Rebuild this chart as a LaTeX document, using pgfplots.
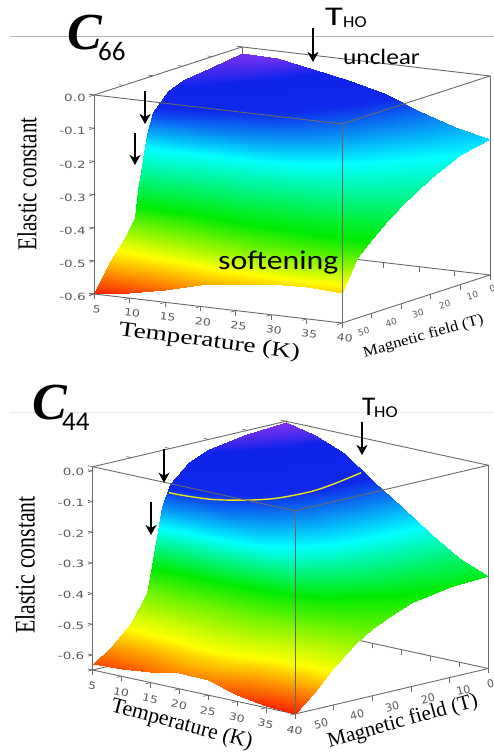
\documentclass[border=0pt]{standalone}
\usepackage{graphicx}
\usepackage{fontspec}
\setmainfont{Liberation Serif}
\newfontfamily\gill{Carlito}
\newfontfamily\tickf{DejaVu Sans}
\usepackage{pgfplots}
\pgfplotsset{compat=1.18}
\usetikzlibrary{arrows.meta}
\definecolor{boxc}{RGB}{105,105,105}
\definecolor{tickc}{RGB}{90,90,90}
\newcommand{\zt}[1]{\scalebox{1.35}[1]{#1}}
\newcommand{\xt}[1]{\scalebox{1.25}[1]{#1}}
\newcommand{\hp}[2]{\hspace*{#1}#2}
\newcommand{\hn}[2]{#2\hspace*{#1}}
\pgfplotsset{common/.style={
  axis lines=box,
  3d box=background,
  axis line style={boxc,line width=0.9pt},
  tick style={boxc,line width=0.7pt},
  tick align=outside,
  major tick length=5pt,
  tick pos=left,
  xmin=5,xmax=40,ymin=0,ymax=50,
  y dir=reverse,
  xtick={5,10,15,20,25,30,35,40},
  ytick={0,10,20,30,40,50},
  xticklabels={\xt{5},\xt{10},\xt{15},\xt{20},\xt{25},\xt{30},\xt{35},\xt{40}},
  ticklabel style={font=\tickf\fontsize{10}{10}\selectfont,text=tickc},
  grid=none,
  clip=false,
}}
\newcommand{\arrowdown}[3]{\draw[-{Stealth[length=10pt,width=11pt,inset=3pt]},line width=2pt,black] (#1pt,752pt-#2pt) -- (#1pt,752pt-#3pt);}
\begin{document}
\begin{tikzpicture}
\path[use as bounding box] (0pt,0pt) rectangle (494pt,752pt);
\draw[black!30,line width=0.6pt] (10pt,715.3pt) -- (494pt,715.3pt);
\draw[black!9,line width=0.6pt] (10pt,339.3pt) -- (494pt,339.3pt);
% ---------- C66
\begin{axis}[common,
  at={(94pt,429pt)},anchor=south west,
  x={(7.086pt,-0.829pt)},y={(2.96pt,0.96pt)},z={(0pt,331.7pt)},
  zmin=-0.6,zmax=0,
  ztick={-0.6,-0.5,-0.4,-0.3,-0.2,-0.1,0},
  zticklabels={\zt{-0.6},\zt{-0.5},\zt{-0.4},\zt{-0.3},\zt{-0.2},\zt{-0.1},\zt{0.0}},
  yticklabels={\hn{24pt}{0},\hn{4pt}{10},20,\hp{6pt}{30},\hp{12pt}{40},\hp{16pt}{50}},
  xticklabel style={anchor=center,xshift=7.5pt,yshift=-13.5pt,rotate=-7},
  yticklabel style={anchor=center,xshift=9pt,yshift=-10pt,rotate=16,font=\tickf\fontsize{9}{9}\selectfont},
  xlabel={\fontsize{21}{21}\selectfont\scalebox{1.3}[1]{Temperature (K)}},
  ylabel={\fontsize{15}{15}\selectfont\scalebox{1.12}[1]{Magnetic field (T)}},
  zlabel={\fontsize{21}{21}\selectfont\scalebox{1}[1.3]{Elastic constant}},
  every axis x label/.style={at={(axis cs:21.3,50,-0.704)},rotate=-7.5,anchor=center},
  every axis y label/.style={at={(axis cs:40,22.5,-0.721)},rotate=15.7,anchor=center},
  every axis z label/.style={at={(axis cs:5,50,-0.268)},xshift=-67pt,rotate=90,anchor=center},
  colormap={c66}{rgb255(0)=(250,30,0); rgb255(110)=(255,255,0); rgb255(220)=(0,235,0); rgb255(390)=(0,255,255); rgb255(500)=(15,40,235); rgb255(550)=(15,35,235); rgb255(588)=(135,50,240)},
  point meta min=-0.6,point meta max=-0.012,
]
\addplot3[surf,shader=interp,mesh/rows=11,mesh/cols=8,mesh/ordering=x varies] table {
5 0 -0.017
10 0 -0.020
15 0 -0.042
20 0 -0.062
25 0 -0.090
30 0 -0.130
35 0 -0.165
40 0 -0.190
5 10 -0.030
10 10 -0.038
15 10 -0.059
20 10 -0.079
25 10 -0.106
30 10 -0.145
35 10 -0.180
40 10 -0.210
5 20 -0.042
10 20 -0.058
15 20 -0.082
20 20 -0.103
25 20 -0.134
30 20 -0.173
35 20 -0.213
40 20 -0.250
5 25 -0.060
10 25 -0.080
15 25 -0.105
20 25 -0.126
25 25 -0.157
30 25 -0.196
35 25 -0.237
40 25 -0.277
5 30 -0.110
10 30 -0.128
15 30 -0.150
20 30 -0.167
25 30 -0.194
30 30 -0.229
35 30 -0.267
40 30 -0.306
5 32 -0.170
10 32 -0.183
15 32 -0.196
20 32 -0.207
25 32 -0.228
30 32 -0.256
35 32 -0.287
40 32 -0.320
5 35 -0.330
10 35 -0.324
15 35 -0.318
20 35 -0.307
25 35 -0.308
30 35 -0.315
35 35 -0.326
40 35 -0.340
5 36 -0.409
10 36 -0.393
15 36 -0.377
20 36 -0.355
25 36 -0.346
30 36 -0.342
35 36 -0.343
40 36 -0.347
5 40 -0.464
10 40 -0.442
15 40 -0.422
20 40 -0.396
25 40 -0.384
30 40 -0.375
35 40 -0.373
40 40 -0.375
5 45 -0.522
10 45 -0.502
15 45 -0.479
20 45 -0.451
25 45 -0.434
30 45 -0.422
35 45 -0.418
40 45 -0.420
5 50 -0.600
10 50 -0.585
15 50 -0.563
20 50 -0.535
25 50 -0.520
30 50 -0.508
35 50 -0.505
40 50 -0.510
};
\addplot3[boxc,line width=0.9pt] coordinates {(5,50,0) (40,50,0) (40,0,0)};
\addplot3[boxc,line width=0.9pt] coordinates {(40,50,0) (40,50,-0.6)};
\end{axis}
% ---------- C44
\begin{axis}[common,
  at={(92.7pt,38pt)},anchor=south west,
  x={(5.78pt,-1.257pt)},y={(3.866pt,0.91pt)},z={(0pt,307pt)},
  zmin=-0.649,zmax=0.013,
  ztick={-0.6,-0.5,-0.4,-0.3,-0.2,-0.1,0},
  zticklabels={\zt{-0.6},\zt{-0.5},\zt{-0.4},\zt{-0.3},\zt{-0.2},\zt{-0.1},\zt{0.0}},
  yticklabels={\hn{30pt}{0},\hn{6.6pt}{10},20,\hp{6pt}{30},\hp{13.4pt}{40},\hp{19pt}{50}},
  xticklabel style={anchor=center,xshift=4.5pt,yshift=-15pt,rotate=-12},
  yticklabel style={anchor=center,xshift=12pt,yshift=-10.7pt,rotate=14,font=\tickf\fontsize{11}{11}\selectfont},
  xlabel={\fontsize{21.8}{22}\selectfont Temperature (K)},
  ylabel={\fontsize{21}{22}\selectfont Magnetic field (T)},
  zlabel={\fontsize{21.8}{22}\selectfont\scalebox{1}[1.3]{Elastic constant}},
  every axis x label/.style={at={(axis cs:20.4,50,-0.765)},rotate=-15,anchor=center},
  every axis y label/.style={at={(axis cs:40,22.1,-0.757)},rotate=15.6,anchor=center},
  every axis z label/.style={at={(axis cs:5,50,-0.307)},xshift=-67.7pt,rotate=90,anchor=center},
  colormap={c44}{rgb255(0)=(250,30,0); rgb255(113)=(255,255,0); rgb255(290)=(0,235,0); rgb255(416)=(0,255,255); rgb255(537)=(15,40,235); rgb255(625)=(15,35,235); rgb255(662)=(140,50,240)},
  point meta min=-0.65,point meta max=0.012,
]
\addplot3[surf,shader=interp,mesh/rows=11,mesh/cols=8,mesh/ordering=x varies] table {
5 0 0.010
10 0 -0.010
15 0 -0.050
20 0 -0.120
25 0 -0.185
30 0 -0.250
35 0 -0.310
40 0 -0.347
5 10 0.000
10 10 -0.025
15 10 -0.064
20 10 -0.125
25 10 -0.188
30 10 -0.255
35 10 -0.315
40 10 -0.355
5 20 -0.018
10 20 -0.048
15 20 -0.087
20 20 -0.143
25 20 -0.202
30 20 -0.272
35 20 -0.335
40 20 -0.378
5 25 -0.045
10 25 -0.077
15 25 -0.115
20 25 -0.166
25 25 -0.224
30 25 -0.294
35 25 -0.357
40 25 -0.400
5 30 -0.101
10 30 -0.132
15 30 -0.166
20 30 -0.209
25 30 -0.261
30 30 -0.329
35 30 -0.388
40 30 -0.430
5 32 -0.170
10 32 -0.194
15 32 -0.219
20 32 -0.254
25 32 -0.299
30 32 -0.359
35 32 -0.410
40 32 -0.445
5 35 -0.370
10 35 -0.371
15 35 -0.372
20 35 -0.379
25 35 -0.399
30 35 -0.435
35 35 -0.463
40 35 -0.473
5 36 -0.441
10 36 -0.434
15 36 -0.426
20 36 -0.424
25 36 -0.435
30 36 -0.462
35 36 -0.482
40 36 -0.484
5 40 -0.525
10 40 -0.514
15 40 -0.499
20 40 -0.489
25 40 -0.492
30 40 -0.515
35 40 -0.529
40 40 -0.526
5 45 -0.585
10 45 -0.578
15 45 -0.565
20 45 -0.551
25 45 -0.555
30 45 -0.579
35 45 -0.595
40 45 -0.595
5 50 -0.629
10 50 -0.625
15 50 -0.613
20 50 -0.597
25 50 -0.600
30 50 -0.628
35 50 -0.645
40 50 -0.648
};
\addplot3[smooth,line width=1.4pt,color=yellow!92!black] coordinates {
(5,30.26,-0.130) (6.23,27.5,-0.144) (8.06,23.4,-0.160) (10.37,18.2,-0.168)
(12.45,13.55,-0.167) (14.76,8.4,-0.152) (16.38,4.8,-0.131) (18.3,0.5,-0.099)
};
\addplot3[boxc,line width=0.9pt] coordinates {(5,50,0.013) (40,50,0.013) (40,0,0.013)};
\addplot3[boxc,line width=0.9pt] coordinates {(40,50,0.013) (40,50,-0.649)};
\end{axis}
% ---------- annotations
\node[anchor=base west,inner sep=0pt] at (67pt,702pt) {\fontsize{52}{52}\selectfont\bfseries\itshape C};
\node[anchor=base west,inner sep=0pt] at (98pt,691pt) {\gill\fontsize{27}{27}\selectfont 66};
\node[anchor=base west,inner sep=0pt] at (32pt,332pt) {\fontsize{52}{52}\selectfont\bfseries\itshape C};
\node[anchor=base west,inner sep=0pt] at (62pt,321pt) {\gill\fontsize{27}{27}\selectfont 44};
\node[anchor=base west,inner sep=0pt] at (325pt,726pt) {\gill\fontsize{27}{27}\selectfont\scalebox{1.35}[1]{T}};
\node[anchor=base west,inner sep=0pt] at (343pt,724.7pt) {\gill\fontsize{16.6}{17}\selectfont\scalebox{1.1}[1]{HO}};
\node[anchor=base west,inner sep=0pt] at (343pt,687pt) {\gill\fontsize{22}{22}\selectfont\scalebox{1.15}[1]{unclear}};
\node[anchor=base west,inner sep=0pt] at (218pt,482pt) {\gill\fontsize{27}{27}\selectfont\scalebox{1.18}[1]{softening}};
\node[anchor=base west,inner sep=0pt] at (362pt,336pt) {\gill\fontsize{27}{27}\selectfont T};
\node[anchor=base west,inner sep=0pt] at (374pt,334.3pt) {\gill\fontsize{16.6}{17}\selectfont\scalebox{1.1}[1]{HO}};
\arrowdown{313}{28}{62}
\arrowdown{145}{91}{124}
\arrowdown{135}{133}{165}
\arrowdown{362}{421.7}{455}
\arrowdown{164}{449.3}{482.7}
\arrowdown{151}{501.7}{535}
\end{tikzpicture}
\end{document}
